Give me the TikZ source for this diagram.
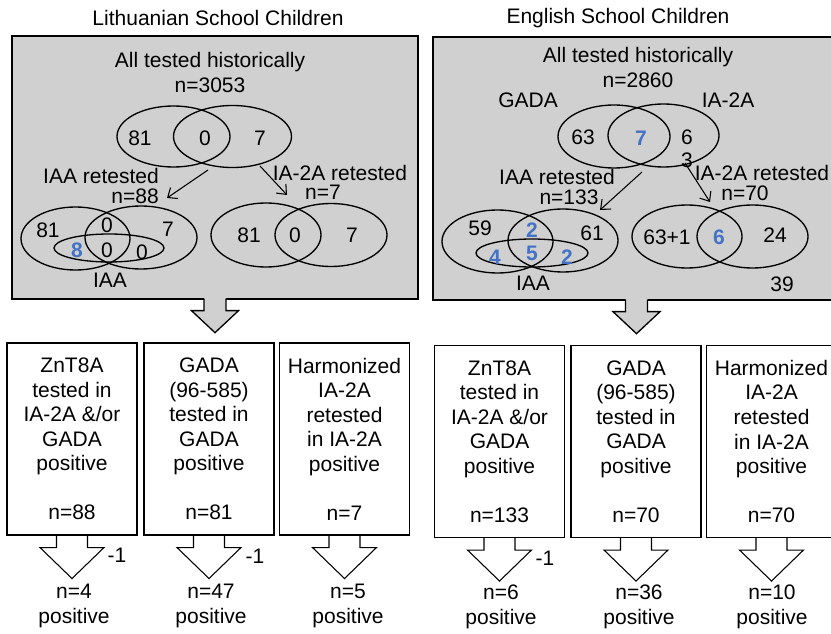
\documentclass[tikz,border=0pt]{standalone}
\usepackage{fontspec}
\setmainfont{Liberation Sans}
\usetikzlibrary{shapes.geometric,arrows.meta,calc}
\newcommand{\pxu}{0.75pt}
\definecolor{panelgray}{RGB}{208,208,208}
\definecolor{numblue}{RGB}{68,114,196}

\begin{document}
\begin{tikzpicture}[
  x=0.75pt, y=-0.75pt,
  every node/.style={font=\fontsize{15.75pt}{18.4pt}\selectfont, inner sep=0pt},
  panel/.style={draw, fill=panelgray, line width=1pt},
  venn/.style 2 args={ellipse, draw, line width=1pt, minimum width=#1*\pxu, minimum height=#2*\pxu},
  hit/.style={text=numblue, font=\fontsize{15.75pt}{18.4pt}\selectfont\bfseries},
  resbox/.style={draw, line width=0.8pt, fill=white, align=center, minimum width=130*\pxu, minimum height=192*\pxu},
  res/.style={align=center},
  tight/.style={text height=11pt, text depth=0pt},
  >={Straight Barb[length=6pt,width=10pt]}
]
\useasboundingbox (0,0) rectangle (831,634);

% titles
\node (ltitle) at (218,18) {Lithuanian School Children};
\node (etitle) at (618,18) {English School Children};

% grey panels
\node[panel, minimum width=406*\pxu, minimum height=263*\pxu] (lpanel) at (215,167.5) {};
\node[panel, minimum width=407*\pxu, minimum height=263*\pxu] (epanel) at (636.5,168.5) {};

\foreach \p in {lpanel,epanel} {
  \fill[panelgray] ($(\p.south)+(-11,-2)$) -- ++(0,13) -- ++(-12.5,0) -- ($(\p.south)+(0,33)$)
    -- ($(\p.south)+(23.5,11)$) -- ++(-12.5,0) -- ++(0,-13) -- cycle;
  \draw[line width=1pt] ($(\p.south)+(-11,-1)$) -- ++(0,12) -- ++(-12.5,0) -- ($(\p.south)+(0,33)$)
    -- ($(\p.south)+(23.5,11)$) -- ++(-12.5,0) -- ++(0,-12);
}

% Lithuanian panel
\node[align=center] (lall) at (210,72.5) {All tested historically\\n=3053};
\node[venn={113}{61}] (lg) at (173.5,136.5) {};
\node[venn={118}{62}] (li) at (232.5,136.5) {};
\node (lg1) at (140,138) {81};
\node (lgi) at (205,138) {0};
\node (li1) at (260,138) {7};

\node[tight, anchor=east] (liaa) at (159,176) {IAA retested};
\node[tight, anchor=east] (ln88) at (159,196) {n=88};
\node[tight] (lia2) at (340,173) {IA-2A retested};
\node[tight] (ln7) at (323,192) {n=7};

\coordinate (la1) at (208,170);
\coordinate (la2) at (167,198);
\coordinate (lb1) at (260,166);
\coordinate (lb2) at (287,195);
\draw[->, line width=0.8pt] (la1) -- (la2);
\draw[->, line width=0.8pt] (lb1) -- (lb2);

\node[venn={109}{63}] (lbg) at (75.5,238.5) {};
\node[venn={112}{63}] (lbi) at (141,237.5) {};
\node[venn={110}{28}] (lbaa) at (109,248) {};
\node (lbg1) at (48,230) {81};
\node (lbgi) at (107,225) {0};
\node (lbi1) at (168,229) {7};
\node[hit] (lbga) at (77,250) {8};
\node (lbgia) at (107,250) {0};
\node (lbia) at (142,252) {0};
\node (lbaal) at (110,280) {IAA};

\node[venn={110}{64}] (lcg) at (266,235) {};
\node[venn={112}{63}] (lci) at (331,235) {};
\node (lcg1) at (249,235) {81};
\node (lcgi) at (295,235) {0};
\node (lci1) at (352,235) {7};

% English panel
\node[align=center] (eall) at (638,67.5) {All tested historically\\n=2860};
\node (egada) at (528,100) {GADA};
\node (eia) at (728,100) {IA-2A};
\node[venn={112}{63}] (eg) at (614,136.5) {};
\node[venn={111}{63}] (ei) at (663.5,135.5) {};
\node (eg1) at (583,137) {63};
\node[hit] (egi) at (641,138) {7};
\node (ei1) at (687,137) {6};
\node (ei2) at (687,160) {3};

\node[tight] (eiaa) at (557,177) {IAA retested};
\node[tight] (en133) at (569,197) {n=133};
\node[tight] (eia2) at (762,173) {IA-2A retested};
\node[tight] (en70) at (745,193) {n=70};

\coordinate (ea1) at (642,172);
\coordinate (ea2) at (600,210);
\coordinate (eb1) at (685,163);
\coordinate (eb2) at (710,202);
\draw[->, line width=0.8pt] (ea1) -- (ea2);
\draw[->, line width=0.8pt] (eb1) -- (eb2);

\node[venn={111}{63}] (ebg) at (497.5,241.5) {};
\node[venn={110}{63}] (ebi) at (563,240.5) {};
\node[venn={112}{28}] (ebaa) at (532,253) {};
\node (ebg1) at (480,228) {59};
\node[hit] (ebgi) at (532,230) {2};
\node (ebi1) at (592,233) {61};
\node[hit] (ebga) at (495,257) {4};
\node[hit] (ebgia) at (532,253) {5};
\node[hit] (ebia) at (567,257) {2};
\node (ebaal) at (533,283) {IAA};

\node[venn={110}{63}] (ecg) at (687,236.5) {};
\node[venn={111}{63}] (eci) at (752.5,236.5) {};
\node (ecg1) at (667,237) {63+1};
\node[hit] (ecgi) at (719,237) {6};
\node (eci1) at (775,235) {24};
\node (ecn) at (782,284) {39};

% result boxes
\node[resbox] (l1) at (72,439) {ZnT8A\\tested in\\IA-2A \&/or\\GADA\\positive\\~\\n=88};
\node[resbox] (l2) at (209,439) {GADA\\(96-585)\\tested in\\GADA\\positive\\~\\n=81};
\node[resbox] (l3) at (344.5,439) {Harmonized\\IA-2A\\retested\\in IA-2A\\positive\\~\\n=7};
\node[resbox] (r1) at (499.5,441.5) {ZnT8A\\tested in\\IA-2A \&/or\\GADA\\positive\\~\\n=133};
\node[resbox] (r2) at (636,441.5) {GADA\\(96-585)\\tested in\\GADA\\positive\\~\\n=70};
\node[resbox] (r3) at (771.5,441.5) {Harmonized\\IA-2A\\retested\\in IA-2A\\positive\\~\\n=70};

\foreach \b in {l1,l2,l3,r1,r2,r3}
  \draw[line width=0.8pt] ($(\b.south)+(-15.5,0)$) -- ++(0,12) -- ++(-16.5,0) -- ($(\b.south)+(0,43)$)
    -- ($(\b.south)+(32,12)$) -- ++(-16.5,0) -- ++(0,-12);

\node (l1m) at (117,555) {-1};
\node (l2m) at (255,556) {-1};
\node (r1m) at (545,558) {-1};

\node[res] (l1res) at (74,606) {n=4\\positive};
\node[res] (l2res) at (211,606) {n=47\\positive};
\node[res] (l3res) at (348,606) {n=5\\positive};
\node[res] (r1res) at (501,607) {n=6\\positive};
\node[res] (r2res) at (639,607) {n=36\\positive};
\node[res] (r3res) at (772,607) {n=10\\positive};

\end{tikzpicture}
\end{document}
